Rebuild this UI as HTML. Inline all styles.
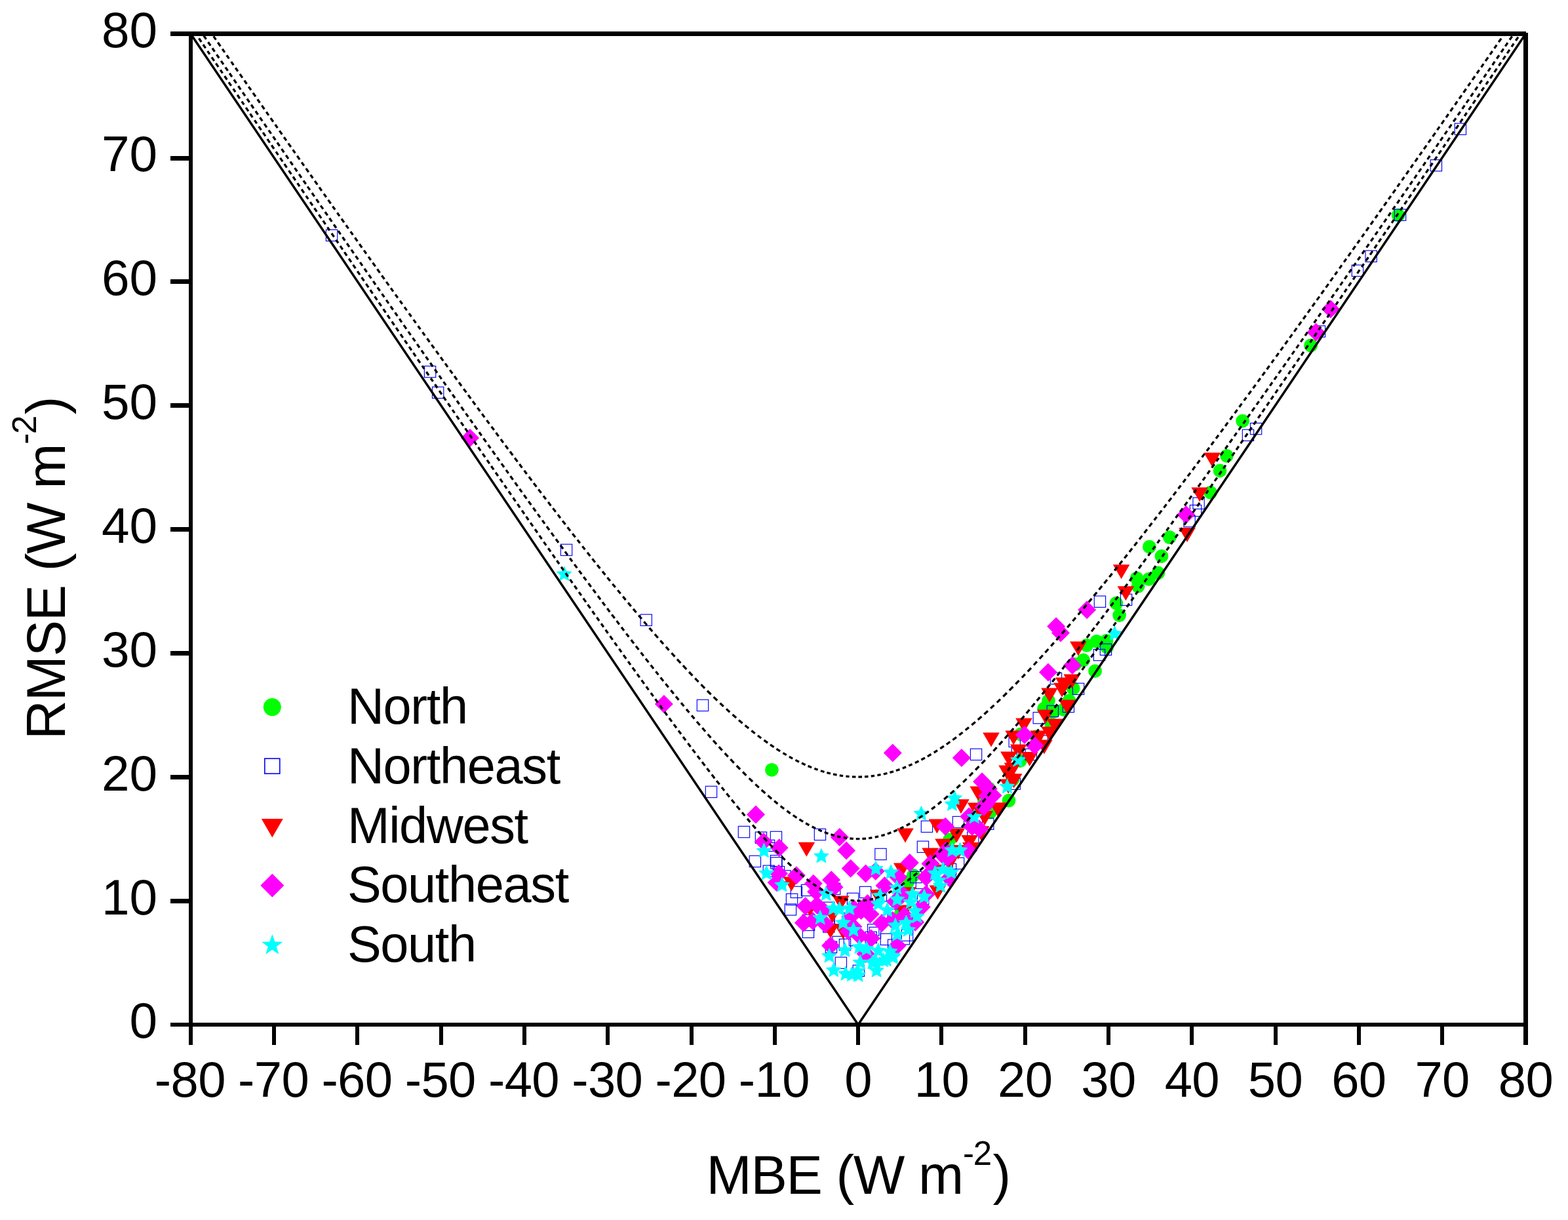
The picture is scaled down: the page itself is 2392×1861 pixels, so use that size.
<!DOCTYPE html>
<html lang="en">
<head>
<meta charset="utf-8">
<title>RMSE vs MBE by region</title>
<style>
html,body{margin:0;padding:0;background:#fff;}
body{width:2392px;height:1861px;overflow:hidden;}
svg{display:block;}
text{font-family:'Liberation Sans', sans-serif;fill:#000;}
</style>
</head>
<body>
<svg width="2392" height="1861" viewBox="0 0 2392 1861" role="img" aria-label="Scatter plot of RMSE against MBE for five regions">
<rect width="2392" height="1861" fill="#ffffff"/>
<g id="pts">
<circle cx="2133.1" cy="328.4" r="10.4" fill="#00ff00"/>
<circle cx="1999.6" cy="526.9" r="10.4" fill="#00ff00"/>
<circle cx="1895.6" cy="642.1" r="10.4" fill="#00ff00"/>
<circle cx="1871.4" cy="695.3" r="10.4" fill="#00ff00"/>
<circle cx="1861.0" cy="718.0" r="10.4" fill="#00ff00"/>
<circle cx="1846.7" cy="751.3" r="10.4" fill="#00ff00"/>
<circle cx="1784.3" cy="819.6" r="10.4" fill="#00ff00"/>
<circle cx="1753.4" cy="834.2" r="10.4" fill="#00ff00"/>
<circle cx="1772.0" cy="848.5" r="10.4" fill="#00ff00"/>
<circle cx="1766.8" cy="874.0" r="10.4" fill="#00ff00"/>
<circle cx="1734.1" cy="882.2" r="10.4" fill="#00ff00"/>
<circle cx="1752.6" cy="883.4" r="10.4" fill="#00ff00"/>
<circle cx="1736.1" cy="894.3" r="10.4" fill="#00ff00"/>
<circle cx="1702.9" cy="920.2" r="10.4" fill="#00ff00"/>
<circle cx="1707.6" cy="938.6" r="10.4" fill="#00ff00"/>
<circle cx="1657.8" cy="984.3" r="10.4" fill="#00ff00"/>
<circle cx="1672.9" cy="978.4" r="10.4" fill="#00ff00"/>
<circle cx="1688.0" cy="977.4" r="10.4" fill="#00ff00"/>
<circle cx="1688.7" cy="987.1" r="10.4" fill="#00ff00"/>
<circle cx="1652.7" cy="1007.0" r="10.4" fill="#00ff00"/>
<circle cx="1640.0" cy="1013.2" r="10.4" fill="#00ff00"/>
<circle cx="1670.6" cy="1023.7" r="10.4" fill="#00ff00"/>
<circle cx="1637.2" cy="1050.2" r="10.4" fill="#00ff00"/>
<circle cx="1599.5" cy="1068.8" r="10.4" fill="#00ff00"/>
<circle cx="1631.0" cy="1068.8" r="10.4" fill="#00ff00"/>
<circle cx="1592.5" cy="1081.0" r="10.4" fill="#00ff00"/>
<circle cx="1607.7" cy="1085.3" r="10.4" fill="#00ff00"/>
<circle cx="1622.5" cy="1082.5" r="10.4" fill="#00ff00"/>
<circle cx="1603.8" cy="1104.3" r="10.4" fill="#00ff00"/>
<circle cx="1580.5" cy="1123.6" r="10.4" fill="#00ff00"/>
<circle cx="1557.1" cy="1120.1" r="10.4" fill="#00ff00"/>
<circle cx="1556.5" cy="1160.5" r="10.4" fill="#00ff00"/>
<circle cx="1544.8" cy="1189.5" r="10.4" fill="#00ff00"/>
<circle cx="1508.4" cy="1202.6" r="10.4" fill="#00ff00"/>
<circle cx="1539.0" cy="1221.1" r="10.4" fill="#00ff00"/>
<circle cx="1501.5" cy="1221.8" r="10.4" fill="#00ff00"/>
<circle cx="1510.5" cy="1239.0" r="10.4" fill="#00ff00"/>
<circle cx="1448.5" cy="1281.0" r="10.4" fill="#00ff00"/>
<circle cx="1177.4" cy="1174.4" r="10.4" fill="#00ff00"/>
<circle cx="1385.2" cy="1344.9" r="10.4" fill="#00ff00"/>
<circle cx="1393.4" cy="1335.3" r="10.4" fill="#00ff00"/>
<circle cx="1374.2" cy="1394.4" r="10.4" fill="#00ff00"/>
<rect x="2219.2" y="188.2" width="17.3" height="17.3" fill="none" stroke="#0000ff" stroke-width="1.15"/>
<rect x="2182.2" y="243.7" width="17.3" height="17.3" fill="none" stroke="#0000ff" stroke-width="1.15"/>
<rect x="2127.4" y="319.2" width="17.3" height="17.3" fill="none" stroke="#0000ff" stroke-width="1.15"/>
<rect x="2083.0" y="382.2" width="17.3" height="17.3" fill="none" stroke="#0000ff" stroke-width="1.15"/>
<rect x="2062.3" y="404.2" width="17.3" height="17.3" fill="none" stroke="#0000ff" stroke-width="1.15"/>
<rect x="2004.3" y="496.9" width="17.3" height="17.3" fill="none" stroke="#0000ff" stroke-width="1.15"/>
<rect x="1907.4" y="645.4" width="17.3" height="17.3" fill="none" stroke="#0000ff" stroke-width="1.15"/>
<rect x="1895.3" y="655.2" width="17.3" height="17.3" fill="none" stroke="#0000ff" stroke-width="1.15"/>
<rect x="1819.9" y="759.1" width="17.3" height="17.3" fill="none" stroke="#0000ff" stroke-width="1.15"/>
<rect x="1815.3" y="770.4" width="17.3" height="17.3" fill="none" stroke="#0000ff" stroke-width="1.15"/>
<rect x="1805.9" y="786.4" width="17.3" height="17.3" fill="none" stroke="#0000ff" stroke-width="1.15"/>
<rect x="1709.4" y="906.2" width="17.3" height="17.3" fill="none" stroke="#0000ff" stroke-width="1.15"/>
<rect x="1669.3" y="909.1" width="17.3" height="17.3" fill="none" stroke="#0000ff" stroke-width="1.15"/>
<rect x="1678.3" y="982.1" width="17.3" height="17.3" fill="none" stroke="#0000ff" stroke-width="1.15"/>
<rect x="1668.4" y="990.4" width="17.3" height="17.3" fill="none" stroke="#0000ff" stroke-width="1.15"/>
<rect x="1602.3" y="1026.3" width="17.3" height="17.3" fill="none" stroke="#0000ff" stroke-width="1.15"/>
<rect x="1636.4" y="1042.2" width="17.3" height="17.3" fill="none" stroke="#0000ff" stroke-width="1.15"/>
<rect x="1597.2" y="1076.2" width="17.3" height="17.3" fill="none" stroke="#0000ff" stroke-width="1.15"/>
<rect x="1621.2" y="1069.3" width="17.3" height="17.3" fill="none" stroke="#0000ff" stroke-width="1.15"/>
<rect x="1576.1" y="1086.5" width="17.3" height="17.3" fill="none" stroke="#0000ff" stroke-width="1.15"/>
<rect x="1539.1" y="1122.2" width="17.3" height="17.3" fill="none" stroke="#0000ff" stroke-width="1.15"/>
<rect x="1543.2" y="1141.0" width="17.3" height="17.3" fill="none" stroke="#0000ff" stroke-width="1.15"/>
<rect x="1564.2" y="1142.3" width="17.3" height="17.3" fill="none" stroke="#0000ff" stroke-width="1.15"/>
<rect x="1581.0" y="1121.8" width="17.3" height="17.3" fill="none" stroke="#0000ff" stroke-width="1.15"/>
<rect x="1480.4" y="1142.2" width="17.3" height="17.3" fill="none" stroke="#0000ff" stroke-width="1.15"/>
<rect x="1539.2" y="1187.0" width="17.3" height="17.3" fill="none" stroke="#0000ff" stroke-width="1.15"/>
<rect x="1453.3" y="1245.4" width="17.3" height="17.3" fill="none" stroke="#0000ff" stroke-width="1.15"/>
<rect x="1498.6" y="1248.1" width="17.3" height="17.3" fill="none" stroke="#0000ff" stroke-width="1.15"/>
<rect x="1475.6" y="1269.0" width="17.3" height="17.3" fill="none" stroke="#0000ff" stroke-width="1.15"/>
<rect x="1405.3" y="1252.2" width="17.3" height="17.3" fill="none" stroke="#0000ff" stroke-width="1.15"/>
<rect x="1399.3" y="1283.1" width="17.3" height="17.3" fill="none" stroke="#0000ff" stroke-width="1.15"/>
<rect x="1334.8" y="1294.3" width="17.3" height="17.3" fill="none" stroke="#0000ff" stroke-width="1.15"/>
<rect x="1453.4" y="1308.4" width="17.3" height="17.3" fill="none" stroke="#0000ff" stroke-width="1.15"/>
<rect x="1441.3" y="1317.3" width="17.3" height="17.3" fill="none" stroke="#0000ff" stroke-width="1.15"/>
<rect x="1388.6" y="1329.4" width="17.3" height="17.3" fill="none" stroke="#0000ff" stroke-width="1.15"/>
<rect x="1397.3" y="1338.3" width="17.3" height="17.3" fill="none" stroke="#0000ff" stroke-width="1.15"/>
<rect x="1311.5" y="1352.3" width="17.3" height="17.3" fill="none" stroke="#0000ff" stroke-width="1.15"/>
<rect x="1292.4" y="1362.3" width="17.3" height="17.3" fill="none" stroke="#0000ff" stroke-width="1.15"/>
<rect x="1335.3" y="1357.5" width="17.3" height="17.3" fill="none" stroke="#0000ff" stroke-width="1.15"/>
<rect x="1354.1" y="1386.8" width="17.3" height="17.3" fill="none" stroke="#0000ff" stroke-width="1.15"/>
<rect x="1399.5" y="1362.3" width="17.3" height="17.3" fill="none" stroke="#0000ff" stroke-width="1.15"/>
<rect x="1296.4" y="1382.3" width="17.3" height="17.3" fill="none" stroke="#0000ff" stroke-width="1.15"/>
<rect x="1323.6" y="1409.8" width="17.3" height="17.3" fill="none" stroke="#0000ff" stroke-width="1.15"/>
<rect x="1326.3" y="1414.3" width="17.3" height="17.3" fill="none" stroke="#0000ff" stroke-width="1.15"/>
<rect x="1320.1" y="1421.4" width="17.3" height="17.3" fill="none" stroke="#0000ff" stroke-width="1.15"/>
<rect x="1343.2" y="1424.2" width="17.3" height="17.3" fill="none" stroke="#0000ff" stroke-width="1.15"/>
<rect x="1354.5" y="1433.1" width="17.3" height="17.3" fill="none" stroke="#0000ff" stroke-width="1.15"/>
<rect x="1375.4" y="1418.0" width="17.3" height="17.3" fill="none" stroke="#0000ff" stroke-width="1.15"/>
<rect x="1370.3" y="1423.5" width="17.3" height="17.3" fill="none" stroke="#0000ff" stroke-width="1.15"/>
<rect x="1301.2" y="1472.2" width="17.3" height="17.3" fill="none" stroke="#0000ff" stroke-width="1.15"/>
<rect x="497.4" y="350.4" width="17.3" height="17.3" fill="none" stroke="#0000ff" stroke-width="1.15"/>
<rect x="647.4" y="558.4" width="17.3" height="17.3" fill="none" stroke="#0000ff" stroke-width="1.15"/>
<rect x="659.5" y="590.2" width="17.3" height="17.3" fill="none" stroke="#0000ff" stroke-width="1.15"/>
<rect x="855.4" y="830.2" width="17.3" height="17.3" fill="none" stroke="#0000ff" stroke-width="1.15"/>
<rect x="977.1" y="937.2" width="17.3" height="17.3" fill="none" stroke="#0000ff" stroke-width="1.15"/>
<rect x="1063.3" y="1067.3" width="17.3" height="17.3" fill="none" stroke="#0000ff" stroke-width="1.15"/>
<rect x="1076.3" y="1199.3" width="17.3" height="17.3" fill="none" stroke="#0000ff" stroke-width="1.15"/>
<rect x="1126.3" y="1260.4" width="17.3" height="17.3" fill="none" stroke="#0000ff" stroke-width="1.15"/>
<rect x="1152.3" y="1269.1" width="17.3" height="17.3" fill="none" stroke="#0000ff" stroke-width="1.15"/>
<rect x="1175.3" y="1268.3" width="17.3" height="17.3" fill="none" stroke="#0000ff" stroke-width="1.15"/>
<rect x="1242.3" y="1264.3" width="17.3" height="17.3" fill="none" stroke="#0000ff" stroke-width="1.15"/>
<rect x="1164.5" y="1281.3" width="17.3" height="17.3" fill="none" stroke="#0000ff" stroke-width="1.15"/>
<rect x="1143.2" y="1305.3" width="17.3" height="17.3" fill="none" stroke="#0000ff" stroke-width="1.15"/>
<rect x="1175.3" y="1304.6" width="17.3" height="17.3" fill="none" stroke="#0000ff" stroke-width="1.15"/>
<rect x="1175.8" y="1307.8" width="17.3" height="17.3" fill="none" stroke="#0000ff" stroke-width="1.15"/>
<rect x="1164.2" y="1320.1" width="17.3" height="17.3" fill="none" stroke="#0000ff" stroke-width="1.15"/>
<rect x="1179.3" y="1321.5" width="17.3" height="17.3" fill="none" stroke="#0000ff" stroke-width="1.15"/>
<rect x="1188.8" y="1327.8" width="17.3" height="17.3" fill="none" stroke="#0000ff" stroke-width="1.15"/>
<rect x="1206.2" y="1352.2" width="17.3" height="17.3" fill="none" stroke="#0000ff" stroke-width="1.15"/>
<rect x="1222.4" y="1349.3" width="17.3" height="17.3" fill="none" stroke="#0000ff" stroke-width="1.15"/>
<rect x="1199.4" y="1363.3" width="17.3" height="17.3" fill="none" stroke="#0000ff" stroke-width="1.15"/>
<rect x="1197.3" y="1378.8" width="17.3" height="17.3" fill="none" stroke="#0000ff" stroke-width="1.15"/>
<rect x="1264.5" y="1347.2" width="17.3" height="17.3" fill="none" stroke="#0000ff" stroke-width="1.15"/>
<rect x="1224.3" y="1413.2" width="17.3" height="17.3" fill="none" stroke="#0000ff" stroke-width="1.15"/>
<rect x="1224.1" y="1395.3" width="17.3" height="17.3" fill="none" stroke="#0000ff" stroke-width="1.15"/>
<rect x="1225.4" y="1402.2" width="17.3" height="17.3" fill="none" stroke="#0000ff" stroke-width="1.15"/>
<rect x="1255.6" y="1376.1" width="17.3" height="17.3" fill="none" stroke="#0000ff" stroke-width="1.15"/>
<rect x="1255.6" y="1404.9" width="17.3" height="17.3" fill="none" stroke="#0000ff" stroke-width="1.15"/>
<rect x="1273.4" y="1392.6" width="17.3" height="17.3" fill="none" stroke="#0000ff" stroke-width="1.15"/>
<rect x="1270.0" y="1428.3" width="17.3" height="17.3" fill="none" stroke="#0000ff" stroke-width="1.15"/>
<rect x="1280.3" y="1432.4" width="17.3" height="17.3" fill="none" stroke="#0000ff" stroke-width="1.15"/>
<rect x="1259.3" y="1436.1" width="17.3" height="17.3" fill="none" stroke="#0000ff" stroke-width="1.15"/>
<rect x="1295.4" y="1425.5" width="17.3" height="17.3" fill="none" stroke="#0000ff" stroke-width="1.15"/>
<rect x="1274.2" y="1460.1" width="17.3" height="17.3" fill="none" stroke="#0000ff" stroke-width="1.15"/>
<path d="M1836.5 690.5h25.6L1849.3 712.5z" fill="#ff0000"/>
<path d="M1817.3 743.4h25.6L1830.1 765.4z" fill="#ff0000"/>
<path d="M1798.2 805.0h25.6L1811.0 827.0z" fill="#ff0000"/>
<path d="M1697.8 861.3h25.6L1710.6 883.3z" fill="#ff0000"/>
<path d="M1704.6 894.3h25.6L1717.4 916.3z" fill="#ff0000"/>
<path d="M1632.1 978.5h25.6L1644.9 1000.5z" fill="#ff0000"/>
<path d="M1622.4 1028.5h25.6L1635.2 1050.5z" fill="#ff0000"/>
<path d="M1610.0 1033.5h25.6L1622.8 1055.5z" fill="#ff0000"/>
<path d="M1607.3 1041.7h25.6L1620.1 1063.7z" fill="#ff0000"/>
<path d="M1588.2 1049.5h25.6L1601.0 1071.5z" fill="#ff0000"/>
<path d="M1615.1 1067.4h25.6L1627.9 1089.4z" fill="#ff0000"/>
<path d="M1582.1 1082.5h25.6L1594.9 1104.5z" fill="#ff0000"/>
<path d="M1549.2 1095.4h25.6L1562.0 1117.4z" fill="#ff0000"/>
<path d="M1596.8 1096.4h25.6L1609.6 1118.4z" fill="#ff0000"/>
<path d="M1588.3 1108.5h25.6L1601.1 1130.5z" fill="#ff0000"/>
<path d="M1571.4 1114.4h25.6L1584.2 1136.4z" fill="#ff0000"/>
<path d="M1533.4 1114.4h25.6L1546.2 1136.4z" fill="#ff0000"/>
<path d="M1499.2 1117.4h25.6L1512.0 1139.4z" fill="#ff0000"/>
<path d="M1541.0 1135.5h25.6L1553.8 1157.5z" fill="#ff0000"/>
<path d="M1580.1 1128.4h25.6L1592.9 1150.4z" fill="#ff0000"/>
<path d="M1526.1 1146.5h25.6L1538.9 1168.5z" fill="#ff0000"/>
<path d="M1557.9 1146.9h25.6L1570.7 1168.9z" fill="#ff0000"/>
<path d="M1523.3 1167.5h25.6L1536.1 1189.5z" fill="#ff0000"/>
<path d="M1531.7 1163.4h25.6L1544.5 1185.4z" fill="#ff0000"/>
<path d="M1533.9 1180.3h25.6L1546.7 1202.3z" fill="#ff0000"/>
<path d="M1525.4 1188.5h25.6L1538.2 1210.5z" fill="#ff0000"/>
<path d="M1479.4 1199.5h25.6L1492.2 1221.5z" fill="#ff0000"/>
<path d="M1453.2 1219.3h25.6L1466.0 1241.3z" fill="#ff0000"/>
<path d="M1475.9 1224.5h25.6L1488.7 1246.5z" fill="#ff0000"/>
<path d="M1509.6 1224.2h25.6L1522.4 1246.2z" fill="#ff0000"/>
<path d="M1489.4 1236.9h25.6L1502.2 1258.9z" fill="#ff0000"/>
<path d="M1446.4 1263.7h25.6L1459.2 1285.7z" fill="#ff0000"/>
<path d="M1483.9 1260.2h25.6L1496.7 1282.2z" fill="#ff0000"/>
<path d="M1466.3 1274.0h25.6L1479.1 1296.0z" fill="#ff0000"/>
<path d="M1448.9 1289.1h25.6L1461.7 1311.1z" fill="#ff0000"/>
<path d="M1468.1 1285.0h25.6L1480.9 1307.0z" fill="#ff0000"/>
<path d="M1416.6 1249.5h25.6L1429.4 1271.5z" fill="#ff0000"/>
<path d="M1368.2 1263.4h25.6L1381.0 1285.4z" fill="#ff0000"/>
<path d="M1426.2 1279.5h25.6L1439.0 1301.5z" fill="#ff0000"/>
<path d="M1406.3 1293.6h25.6L1419.1 1315.6z" fill="#ff0000"/>
<path d="M1363.0 1316.5h25.6L1375.8 1338.5z" fill="#ff0000"/>
<path d="M1435.6 1307.2h25.6L1448.4 1329.2z" fill="#ff0000"/>
<path d="M1415.6 1318.8h25.6L1428.4 1340.8z" fill="#ff0000"/>
<path d="M1417.7 1350.4h25.6L1430.5 1372.4z" fill="#ff0000"/>
<path d="M1327.0 1357.3h25.6L1339.8 1379.3z" fill="#ff0000"/>
<path d="M1366.9 1380.6h25.6L1379.7 1402.6z" fill="#ff0000"/>
<path d="M1372.4 1353.2h25.6L1385.2 1375.2z" fill="#ff0000"/>
<path d="M1217.6 1284.8h25.6L1230.4 1306.8z" fill="#ff0000"/>
<path d="M1194.7 1337.4h25.6L1207.5 1359.4z" fill="#ff0000"/>
<path d="M1270.0 1366.5h25.6L1282.8 1388.5z" fill="#ff0000"/>
<path d="M1222.7 1376.0h25.6L1235.5 1398.0z" fill="#ff0000"/>
<path d="M1257.0 1386.1h25.6L1269.8 1408.1z" fill="#ff0000"/>
<path d="M1254.2 1409.5h25.6L1267.0 1431.5z" fill="#ff0000"/>
<path d="M1273.5 1410.9h25.6L1286.3 1432.9z" fill="#ff0000"/>
<path d="M2029.9 457.4L2043.9 471.4L2029.9 485.4L2015.9 471.4z" fill="#ff00ff"/>
<path d="M2007.5 492.8L2021.5 506.8L2007.5 520.8L1993.5 506.8z" fill="#ff00ff"/>
<path d="M1809.3 771.0L1823.3 785.0L1809.3 799.0L1795.3 785.0z" fill="#ff00ff"/>
<path d="M1658.1 916.3L1672.1 930.3L1658.1 944.3L1644.1 930.3z" fill="#ff00ff"/>
<path d="M1611.1 941.5L1625.1 955.5L1611.1 969.5L1597.1 955.5z" fill="#ff00ff"/>
<path d="M1618.0 951.5L1632.0 965.5L1618.0 979.5L1604.0 965.5z" fill="#ff00ff"/>
<path d="M1635.9 1000.9L1649.9 1014.9L1635.9 1028.9L1621.9 1014.9z" fill="#ff00ff"/>
<path d="M1599.0 1011.5L1613.0 1025.5L1599.0 1039.5L1585.0 1025.5z" fill="#ff00ff"/>
<path d="M1562.9 1107.1L1576.9 1121.1L1562.9 1135.1L1548.9 1121.1z" fill="#ff00ff"/>
<path d="M1578.4 1123.3L1592.4 1137.3L1578.4 1151.3L1564.4 1137.3z" fill="#ff00ff"/>
<path d="M1466.9 1141.9L1480.9 1155.9L1466.9 1169.9L1452.9 1155.9z" fill="#ff00ff"/>
<path d="M1498.1 1178.3L1512.1 1192.3L1498.1 1206.3L1484.1 1192.3z" fill="#ff00ff"/>
<path d="M1507.7 1189.2L1521.7 1203.2L1507.7 1217.2L1493.7 1203.2z" fill="#ff00ff"/>
<path d="M1514.6 1199.5L1528.6 1213.5L1514.6 1227.5L1500.6 1213.5z" fill="#ff00ff"/>
<path d="M1506.3 1200.2L1520.3 1214.2L1506.3 1228.2L1492.3 1214.2z" fill="#ff00ff"/>
<path d="M1504.9 1211.2L1518.9 1225.2L1504.9 1239.2L1490.9 1225.2z" fill="#ff00ff"/>
<path d="M1500.8 1216.7L1514.8 1230.7L1500.8 1244.7L1486.8 1230.7z" fill="#ff00ff"/>
<path d="M1478.2 1231.5L1492.2 1245.5L1478.2 1259.5L1464.2 1245.5z" fill="#ff00ff"/>
<path d="M1483.0 1246.9L1497.0 1260.9L1483.0 1274.9L1469.0 1260.9z" fill="#ff00ff"/>
<path d="M1494.0 1250.4L1508.0 1264.4L1494.0 1278.4L1480.0 1264.4z" fill="#ff00ff"/>
<path d="M1442.2 1246.7L1456.2 1260.7L1442.2 1274.7L1428.2 1260.7z" fill="#ff00ff"/>
<path d="M1477.4 1283.5L1491.4 1297.5L1477.4 1311.5L1463.4 1297.5z" fill="#ff00ff"/>
<path d="M1361.8 1134.6L1375.8 1148.6L1361.8 1162.6L1347.8 1148.6z" fill="#ff00ff"/>
<path d="M1442.9 1284.0L1456.9 1298.0L1442.9 1312.0L1428.9 1298.0z" fill="#ff00ff"/>
<path d="M1291.1 1283.5L1305.1 1297.5L1291.1 1311.5L1277.1 1297.5z" fill="#ff00ff"/>
<path d="M1387.9 1302.1L1401.9 1316.1L1387.9 1330.1L1373.9 1316.1z" fill="#ff00ff"/>
<path d="M1320.6 1318.6L1334.6 1332.6L1320.6 1346.6L1306.6 1332.6z" fill="#ff00ff"/>
<path d="M1297.7 1310.8L1311.7 1324.8L1297.7 1338.8L1283.7 1324.8z" fill="#ff00ff"/>
<path d="M1335.7 1315.1L1349.7 1329.1L1335.7 1343.1L1321.7 1329.1z" fill="#ff00ff"/>
<path d="M1370.1 1324.1L1384.1 1338.1L1370.1 1352.1L1356.1 1338.1z" fill="#ff00ff"/>
<path d="M1349.5 1337.1L1363.5 1351.1L1349.5 1365.1L1335.5 1351.1z" fill="#ff00ff"/>
<path d="M1419.5 1303.5L1433.5 1317.5L1419.5 1331.5L1405.5 1317.5z" fill="#ff00ff"/>
<path d="M1412.6 1324.1L1426.6 1338.1L1412.6 1352.1L1398.6 1338.1z" fill="#ff00ff"/>
<path d="M1445.6 1293.9L1459.6 1307.9L1445.6 1321.9L1431.6 1307.9z" fill="#ff00ff"/>
<path d="M1437.4 1289.7L1451.4 1303.7L1437.4 1317.7L1423.4 1303.7z" fill="#ff00ff"/>
<path d="M1448.4 1325.5L1462.4 1339.5L1448.4 1353.5L1434.4 1339.5z" fill="#ff00ff"/>
<path d="M1412.6 1350.2L1426.6 1364.2L1412.6 1378.2L1398.6 1364.2z" fill="#ff00ff"/>
<path d="M1405.8 1369.4L1419.8 1383.4L1405.8 1397.4L1391.8 1383.4z" fill="#ff00ff"/>
<path d="M1396.2 1392.8L1410.2 1406.8L1396.2 1420.8L1382.2 1406.8z" fill="#ff00ff"/>
<path d="M1376.9 1350.2L1390.9 1364.2L1376.9 1378.2L1362.9 1364.2z" fill="#ff00ff"/>
<path d="M1365.9 1361.2L1379.9 1375.2L1365.9 1389.2L1351.9 1375.2z" fill="#ff00ff"/>
<path d="M1323.4 1363.9L1337.4 1377.9L1323.4 1391.9L1309.4 1377.9z" fill="#ff00ff"/>
<path d="M1313.7 1374.9L1327.7 1388.9L1313.7 1402.9L1299.7 1388.9z" fill="#ff00ff"/>
<path d="M1327.5 1380.4L1341.5 1394.4L1327.5 1408.4L1313.5 1394.4z" fill="#ff00ff"/>
<path d="M1302.7 1372.2L1316.7 1386.2L1302.7 1400.2L1288.7 1386.2z" fill="#ff00ff"/>
<path d="M1345.3 1394.1L1359.3 1408.1L1345.3 1422.1L1331.3 1408.1z" fill="#ff00ff"/>
<path d="M1361.8 1390.0L1375.8 1404.0L1361.8 1418.0L1347.8 1404.0z" fill="#ff00ff"/>
<path d="M1379.7 1383.1L1393.7 1397.1L1379.7 1411.1L1365.7 1397.1z" fill="#ff00ff"/>
<path d="M1301.4 1399.6L1315.4 1413.6L1301.4 1427.6L1287.4 1413.6z" fill="#ff00ff"/>
<path d="M1311.0 1413.4L1325.0 1427.4L1311.0 1441.4L1297.0 1427.4z" fill="#ff00ff"/>
<path d="M1328.8 1417.5L1342.8 1431.5L1328.8 1445.5L1314.8 1431.5z" fill="#ff00ff"/>
<path d="M1368.7 1428.5L1382.7 1442.5L1368.7 1456.5L1354.7 1442.5z" fill="#ff00ff"/>
<path d="M1320.6 1441.0L1334.6 1455.0L1320.6 1469.0L1306.6 1455.0z" fill="#ff00ff"/>
<path d="M717.0 654.0L731.0 668.0L717.0 682.0L703.0 668.0z" fill="#ff00ff"/>
<path d="M1012.9 1059.9L1026.9 1073.9L1012.9 1087.9L998.9 1073.9z" fill="#ff00ff"/>
<path d="M1153.0 1228.5L1167.0 1242.5L1153.0 1256.5L1139.0 1242.5z" fill="#ff00ff"/>
<path d="M1280.8 1263.0L1294.8 1277.0L1280.8 1291.0L1266.8 1277.0z" fill="#ff00ff"/>
<path d="M1164.8 1270.0L1178.8 1284.0L1164.8 1298.0L1150.8 1284.0z" fill="#ff00ff"/>
<path d="M1188.7 1279.3L1202.7 1293.3L1188.7 1307.3L1174.7 1293.3z" fill="#ff00ff"/>
<path d="M1188.0 1318.6L1202.0 1332.6L1188.0 1346.6L1174.0 1332.6z" fill="#ff00ff"/>
<path d="M1214.9 1321.3L1228.9 1335.3L1214.9 1349.3L1200.9 1335.3z" fill="#ff00ff"/>
<path d="M1184.7 1332.3L1198.7 1346.3L1184.7 1360.3L1170.7 1346.3z" fill="#ff00ff"/>
<path d="M1240.9 1333.7L1254.9 1347.7L1240.9 1361.7L1226.9 1347.7z" fill="#ff00ff"/>
<path d="M1268.1 1328.2L1282.1 1342.2L1268.1 1356.2L1254.1 1342.2z" fill="#ff00ff"/>
<path d="M1272.5 1339.2L1286.5 1353.2L1272.5 1367.2L1258.5 1353.2z" fill="#ff00ff"/>
<path d="M1245.1 1346.3L1259.1 1360.3L1245.1 1374.3L1231.1 1360.3z" fill="#ff00ff"/>
<path d="M1228.7 1368.3L1242.7 1382.3L1228.7 1396.3L1214.7 1382.3z" fill="#ff00ff"/>
<path d="M1246.4 1366.7L1260.4 1380.7L1246.4 1394.7L1232.4 1380.7z" fill="#ff00ff"/>
<path d="M1256.0 1374.9L1270.0 1388.9L1256.0 1402.9L1242.0 1388.9z" fill="#ff00ff"/>
<path d="M1225.9 1393.7L1239.9 1407.7L1225.9 1421.7L1211.9 1407.7z" fill="#ff00ff"/>
<path d="M1240.0 1391.0L1254.0 1405.0L1240.0 1419.0L1226.0 1405.0z" fill="#ff00ff"/>
<path d="M1258.8 1395.5L1272.8 1409.5L1258.8 1423.5L1244.8 1409.5z" fill="#ff00ff"/>
<path d="M1297.3 1384.5L1311.3 1398.5L1297.3 1412.5L1283.3 1398.5z" fill="#ff00ff"/>
<path d="M1294.5 1406.5L1308.5 1420.5L1294.5 1434.5L1280.5 1420.5z" fill="#ff00ff"/>
<path d="M1267.0 1428.5L1281.0 1442.5L1267.0 1456.5L1253.0 1442.5z" fill="#ff00ff"/>
<polygon points="1700.4,955.4 1703.5,962.6 1711.3,963.3 1705.4,968.5 1707.2,976.2 1700.4,972.2 1693.6,976.2 1695.4,968.5 1689.5,963.3 1697.3,962.6" fill="#00ffff" stroke="#00ffff" stroke-width="1.2" stroke-linejoin="round"/>
<polygon points="1552.7,1148.2 1555.8,1155.4 1563.6,1156.1 1557.7,1161.3 1559.5,1169.0 1552.7,1165.0 1545.9,1169.0 1547.7,1161.3 1541.8,1156.1 1549.6,1155.4" fill="#00ffff" stroke="#00ffff" stroke-width="1.2" stroke-linejoin="round"/>
<polygon points="1536.5,1188.7 1539.6,1195.9 1547.4,1196.6 1541.5,1201.8 1543.3,1209.5 1536.5,1205.5 1529.7,1209.5 1531.5,1201.8 1525.6,1196.6 1533.4,1195.9" fill="#00ffff" stroke="#00ffff" stroke-width="1.2" stroke-linejoin="round"/>
<polygon points="1456.3,1206.3 1459.4,1213.5 1467.2,1214.2 1461.3,1219.4 1463.1,1227.1 1456.3,1223.1 1449.5,1227.1 1451.3,1219.4 1445.4,1214.2 1453.2,1213.5" fill="#00ffff" stroke="#00ffff" stroke-width="1.2" stroke-linejoin="round"/>
<polygon points="1452.5,1215.5 1455.6,1222.7 1463.4,1223.4 1457.5,1228.6 1459.3,1236.3 1452.5,1232.3 1445.7,1236.3 1447.5,1228.6 1441.6,1223.4 1449.4,1222.7" fill="#00ffff" stroke="#00ffff" stroke-width="1.2" stroke-linejoin="round"/>
<polygon points="1486.4,1234.7 1489.5,1241.9 1497.3,1242.6 1491.4,1247.8 1493.2,1255.5 1486.4,1251.5 1479.6,1255.5 1481.4,1247.8 1475.5,1242.6 1483.3,1241.9" fill="#00ffff" stroke="#00ffff" stroke-width="1.2" stroke-linejoin="round"/>
<polygon points="1405.4,1229.9 1408.5,1237.1 1416.3,1237.8 1410.4,1243.0 1412.2,1250.7 1405.4,1246.7 1398.6,1250.7 1400.4,1243.0 1394.5,1237.8 1402.3,1237.1" fill="#00ffff" stroke="#00ffff" stroke-width="1.2" stroke-linejoin="round"/>
<polygon points="1452.6,1285.6 1455.7,1292.8 1463.5,1293.5 1457.6,1298.7 1459.4,1306.4 1452.6,1302.4 1445.8,1306.4 1447.6,1298.7 1441.7,1293.5 1449.5,1292.8" fill="#00ffff" stroke="#00ffff" stroke-width="1.2" stroke-linejoin="round"/>
<polygon points="1464.6,1285.6 1467.7,1292.8 1475.5,1293.5 1469.6,1298.7 1471.4,1306.4 1464.6,1302.4 1457.8,1306.4 1459.6,1298.7 1453.7,1293.5 1461.5,1292.8" fill="#00ffff" stroke="#00ffff" stroke-width="1.2" stroke-linejoin="round"/>
<polygon points="1336.1,1313.9 1339.2,1321.1 1347.0,1321.8 1341.1,1327.0 1342.9,1334.7 1336.1,1330.7 1329.3,1334.7 1331.1,1327.0 1325.2,1321.8 1333.0,1321.1" fill="#00ffff" stroke="#00ffff" stroke-width="1.2" stroke-linejoin="round"/>
<polygon points="1359.1,1319.4 1362.2,1326.6 1370.0,1327.3 1364.1,1332.5 1365.9,1340.2 1359.1,1336.2 1352.3,1340.2 1354.1,1332.5 1348.2,1327.3 1356.0,1326.6" fill="#00ffff" stroke="#00ffff" stroke-width="1.2" stroke-linejoin="round"/>
<polygon points="1426.4,1320.8 1429.5,1328.0 1437.3,1328.7 1431.4,1333.9 1433.2,1341.6 1426.4,1337.6 1419.6,1341.6 1421.4,1333.9 1415.5,1328.7 1423.3,1328.0" fill="#00ffff" stroke="#00ffff" stroke-width="1.2" stroke-linejoin="round"/>
<polygon points="1438.7,1315.3 1441.8,1322.5 1449.6,1323.2 1443.7,1328.4 1445.5,1336.1 1438.7,1332.1 1431.9,1336.1 1433.7,1328.4 1427.8,1323.2 1435.6,1322.5" fill="#00ffff" stroke="#00ffff" stroke-width="1.2" stroke-linejoin="round"/>
<polygon points="1451.1,1319.4 1454.2,1326.6 1462.0,1327.3 1456.1,1332.5 1457.9,1340.2 1451.1,1336.2 1444.3,1340.2 1446.1,1332.5 1440.2,1327.3 1448.0,1326.6" fill="#00ffff" stroke="#00ffff" stroke-width="1.2" stroke-linejoin="round"/>
<polygon points="1431.9,1331.8 1435.0,1339.0 1442.8,1339.7 1436.9,1344.9 1438.7,1352.6 1431.9,1348.6 1425.1,1352.6 1426.9,1344.9 1421.0,1339.7 1428.8,1339.0" fill="#00ffff" stroke="#00ffff" stroke-width="1.2" stroke-linejoin="round"/>
<polygon points="1434.6,1340.0 1437.7,1347.2 1445.5,1347.9 1439.6,1353.1 1441.4,1360.8 1434.6,1356.8 1427.8,1360.8 1429.6,1353.1 1423.7,1347.9 1431.5,1347.2" fill="#00ffff" stroke="#00ffff" stroke-width="1.2" stroke-linejoin="round"/>
<polygon points="1368.0,1342.8 1371.1,1350.0 1378.9,1350.7 1373.0,1355.9 1374.8,1363.6 1368.0,1359.6 1361.2,1363.6 1363.0,1355.9 1357.1,1350.7 1364.9,1350.0" fill="#00ffff" stroke="#00ffff" stroke-width="1.2" stroke-linejoin="round"/>
<polygon points="1342.6,1355.1 1345.7,1362.3 1353.5,1363.0 1347.6,1368.2 1349.4,1375.9 1342.6,1371.9 1335.8,1375.9 1337.6,1368.2 1331.7,1363.0 1339.5,1362.3" fill="#00ffff" stroke="#00ffff" stroke-width="1.2" stroke-linejoin="round"/>
<polygon points="1368.7,1360.6 1371.8,1367.8 1379.6,1368.5 1373.7,1373.7 1375.5,1381.4 1368.7,1377.4 1361.9,1381.4 1363.7,1373.7 1357.8,1368.5 1365.6,1367.8" fill="#00ffff" stroke="#00ffff" stroke-width="1.2" stroke-linejoin="round"/>
<polygon points="1392.0,1352.4 1395.1,1359.6 1402.9,1360.3 1397.0,1365.5 1398.8,1373.2 1392.0,1369.2 1385.2,1373.2 1387.0,1365.5 1381.1,1360.3 1388.9,1359.6" fill="#00ffff" stroke="#00ffff" stroke-width="1.2" stroke-linejoin="round"/>
<polygon points="1409.9,1356.5 1413.0,1363.7 1420.8,1364.4 1414.9,1369.6 1416.7,1377.3 1409.9,1373.3 1403.1,1377.3 1404.9,1369.6 1399.0,1364.4 1406.8,1363.7" fill="#00ffff" stroke="#00ffff" stroke-width="1.2" stroke-linejoin="round"/>
<polygon points="1389.3,1364.8 1392.4,1372.0 1400.2,1372.7 1394.3,1377.9 1396.1,1385.6 1389.3,1381.6 1382.5,1385.6 1384.3,1377.9 1378.4,1372.7 1386.2,1372.0" fill="#00ffff" stroke="#00ffff" stroke-width="1.2" stroke-linejoin="round"/>
<polygon points="1339.8,1367.5 1342.9,1374.7 1350.7,1375.4 1344.8,1380.6 1346.6,1388.3 1339.8,1384.3 1333.0,1388.3 1334.8,1380.6 1328.9,1375.4 1336.7,1374.7" fill="#00ffff" stroke="#00ffff" stroke-width="1.2" stroke-linejoin="round"/>
<polygon points="1353.6,1377.1 1356.7,1384.3 1364.5,1385.0 1358.6,1390.2 1360.4,1397.9 1353.6,1393.9 1346.8,1397.9 1348.6,1390.2 1342.7,1385.0 1350.5,1384.3" fill="#00ffff" stroke="#00ffff" stroke-width="1.2" stroke-linejoin="round"/>
<polygon points="1396.2,1378.5 1399.3,1385.7 1407.1,1386.4 1401.2,1391.6 1403.0,1399.3 1396.2,1395.3 1389.4,1399.3 1391.2,1391.6 1385.3,1386.4 1393.1,1385.7" fill="#00ffff" stroke="#00ffff" stroke-width="1.2" stroke-linejoin="round"/>
<polygon points="1398.9,1386.7 1402.0,1393.9 1409.8,1394.6 1403.9,1399.8 1405.7,1407.5 1398.9,1403.5 1392.1,1407.5 1393.9,1399.8 1388.0,1394.6 1395.8,1393.9" fill="#00ffff" stroke="#00ffff" stroke-width="1.2" stroke-linejoin="round"/>
<polygon points="1382.4,1396.4 1385.5,1403.6 1393.3,1404.3 1387.4,1409.5 1389.2,1417.2 1382.4,1413.2 1375.6,1417.2 1377.4,1409.5 1371.5,1404.3 1379.3,1403.6" fill="#00ffff" stroke="#00ffff" stroke-width="1.2" stroke-linejoin="round"/>
<polygon points="1365.9,1400.5 1369.0,1407.7 1376.8,1408.4 1370.9,1413.6 1372.7,1421.3 1365.9,1417.3 1359.1,1421.3 1360.9,1413.6 1355.0,1408.4 1362.8,1407.7" fill="#00ffff" stroke="#00ffff" stroke-width="1.2" stroke-linejoin="round"/>
<polygon points="1385.2,1407.3 1388.3,1414.5 1396.1,1415.2 1390.2,1420.4 1392.0,1428.1 1385.2,1424.1 1378.4,1428.1 1380.2,1420.4 1374.3,1415.2 1382.1,1414.5" fill="#00ffff" stroke="#00ffff" stroke-width="1.2" stroke-linejoin="round"/>
<polygon points="1368.7,1414.2 1371.8,1421.4 1379.6,1422.1 1373.7,1427.3 1375.5,1435.0 1368.7,1431.0 1361.9,1435.0 1363.7,1427.3 1357.8,1422.1 1365.6,1421.4" fill="#00ffff" stroke="#00ffff" stroke-width="1.2" stroke-linejoin="round"/>
<polygon points="1302.0,1407.1 1305.1,1414.3 1312.9,1415.0 1307.0,1420.2 1308.8,1427.9 1302.0,1423.9 1295.2,1427.9 1297.0,1420.2 1291.1,1415.0 1298.9,1414.3" fill="#00ffff" stroke="#00ffff" stroke-width="1.2" stroke-linejoin="round"/>
<polygon points="1311.0,1433.4 1314.1,1440.6 1321.9,1441.3 1316.0,1446.5 1317.8,1454.2 1311.0,1450.2 1304.2,1454.2 1306.0,1446.5 1300.1,1441.3 1307.9,1440.6" fill="#00ffff" stroke="#00ffff" stroke-width="1.2" stroke-linejoin="round"/>
<polygon points="1322.0,1436.2 1325.1,1443.4 1332.9,1444.1 1327.0,1449.3 1328.8,1457.0 1322.0,1453.0 1315.2,1457.0 1317.0,1449.3 1311.1,1444.1 1318.9,1443.4" fill="#00ffff" stroke="#00ffff" stroke-width="1.2" stroke-linejoin="round"/>
<polygon points="1339.8,1438.9 1342.9,1446.1 1350.7,1446.8 1344.8,1452.0 1346.6,1459.7 1339.8,1455.7 1333.0,1459.7 1334.8,1452.0 1328.9,1446.8 1336.7,1446.1" fill="#00ffff" stroke="#00ffff" stroke-width="1.2" stroke-linejoin="round"/>
<polygon points="1357.7,1440.3 1360.8,1447.5 1368.6,1448.2 1362.7,1453.4 1364.5,1461.1 1357.7,1457.1 1350.9,1461.1 1352.7,1453.4 1346.8,1448.2 1354.6,1447.5" fill="#00ffff" stroke="#00ffff" stroke-width="1.2" stroke-linejoin="round"/>
<polygon points="1361.8,1448.6 1364.9,1455.8 1372.7,1456.5 1366.8,1461.7 1368.6,1469.4 1361.8,1465.4 1355.0,1469.4 1356.8,1461.7 1350.9,1456.5 1358.7,1455.8" fill="#00ffff" stroke="#00ffff" stroke-width="1.2" stroke-linejoin="round"/>
<polygon points="1312.4,1456.8 1315.5,1464.0 1323.3,1464.7 1317.4,1469.9 1319.2,1477.6 1312.4,1473.6 1305.6,1477.6 1307.4,1469.9 1301.5,1464.7 1309.3,1464.0" fill="#00ffff" stroke="#00ffff" stroke-width="1.2" stroke-linejoin="round"/>
<polygon points="1335.7,1455.4 1338.8,1462.6 1346.6,1463.3 1340.7,1468.5 1342.5,1476.2 1335.7,1472.2 1328.9,1476.2 1330.7,1468.5 1324.8,1463.3 1332.6,1462.6" fill="#00ffff" stroke="#00ffff" stroke-width="1.2" stroke-linejoin="round"/>
<polygon points="1352.2,1452.7 1355.3,1459.9 1363.1,1460.6 1357.2,1465.8 1359.0,1473.5 1352.2,1469.5 1345.4,1473.5 1347.2,1465.8 1341.3,1460.6 1349.1,1459.9" fill="#00ffff" stroke="#00ffff" stroke-width="1.2" stroke-linejoin="round"/>
<polygon points="1337.1,1469.2 1340.2,1476.4 1348.0,1477.1 1342.1,1482.3 1343.9,1490.0 1337.1,1486.0 1330.3,1490.0 1332.1,1482.3 1326.2,1477.1 1334.0,1476.4" fill="#00ffff" stroke="#00ffff" stroke-width="1.2" stroke-linejoin="round"/>
<polygon points="1308.2,1470.1 1311.3,1477.3 1319.1,1478.0 1313.2,1483.2 1315.0,1490.9 1308.2,1486.9 1301.4,1490.9 1303.2,1483.2 1297.3,1478.0 1305.1,1477.3" fill="#00ffff" stroke="#00ffff" stroke-width="1.2" stroke-linejoin="round"/>
<polygon points="1309.2,1476.3 1312.3,1483.5 1320.1,1484.2 1314.2,1489.4 1316.0,1497.1 1309.2,1493.1 1302.4,1497.1 1304.2,1489.4 1298.3,1484.2 1306.1,1483.5" fill="#00ffff" stroke="#00ffff" stroke-width="1.2" stroke-linejoin="round"/>
<polygon points="1290.0,1474.2 1293.1,1481.4 1300.9,1482.1 1295.0,1487.3 1296.8,1495.0 1290.0,1491.0 1283.2,1495.0 1285.0,1487.3 1279.1,1482.1 1286.9,1481.4" fill="#00ffff" stroke="#00ffff" stroke-width="1.2" stroke-linejoin="round"/>
<polygon points="1299.5,1475.4 1302.6,1482.6 1310.4,1483.3 1304.5,1488.5 1306.3,1496.2 1299.5,1492.2 1292.7,1496.2 1294.5,1488.5 1288.6,1483.3 1296.4,1482.6" fill="#00ffff" stroke="#00ffff" stroke-width="1.2" stroke-linejoin="round"/>
<polygon points="860.7,864.5 863.8,871.7 871.6,872.4 865.7,877.6 867.5,885.3 860.7,881.3 853.9,885.3 855.7,877.6 849.8,872.4 857.6,871.7" fill="#00ffff" stroke="#00ffff" stroke-width="1.2" stroke-linejoin="round"/>
<polygon points="1165.4,1286.6 1168.5,1293.8 1176.3,1294.5 1170.4,1299.7 1172.2,1307.4 1165.4,1303.4 1158.6,1307.4 1160.4,1299.7 1154.5,1294.5 1162.3,1293.8" fill="#00ffff" stroke="#00ffff" stroke-width="1.2" stroke-linejoin="round"/>
<polygon points="1253.0,1294.7 1256.1,1301.9 1263.9,1302.6 1258.0,1307.8 1259.8,1315.5 1253.0,1311.5 1246.2,1315.5 1248.0,1307.8 1242.1,1302.6 1249.9,1301.9" fill="#00ffff" stroke="#00ffff" stroke-width="1.2" stroke-linejoin="round"/>
<polygon points="1169.3,1320.8 1172.4,1328.0 1180.2,1328.7 1174.3,1333.9 1176.1,1341.6 1169.3,1337.6 1162.5,1341.6 1164.3,1333.9 1158.4,1328.7 1166.2,1328.0" fill="#00ffff" stroke="#00ffff" stroke-width="1.2" stroke-linejoin="round"/>
<polygon points="1193.0,1338.6 1196.1,1345.8 1203.9,1346.5 1198.0,1351.7 1199.8,1359.4 1193.0,1355.4 1186.2,1359.4 1188.0,1351.7 1182.1,1346.5 1189.9,1345.8" fill="#00ffff" stroke="#00ffff" stroke-width="1.2" stroke-linejoin="round"/>
<polygon points="1260.2,1352.4 1263.3,1359.6 1271.1,1360.3 1265.2,1365.5 1267.0,1373.2 1260.2,1369.2 1253.4,1373.2 1255.2,1365.5 1249.3,1360.3 1257.1,1359.6" fill="#00ffff" stroke="#00ffff" stroke-width="1.2" stroke-linejoin="round"/>
<polygon points="1271.2,1374.4 1274.3,1381.6 1282.1,1382.3 1276.2,1387.5 1278.0,1395.2 1271.2,1391.2 1264.4,1395.2 1266.2,1387.5 1260.3,1382.3 1268.1,1381.6" fill="#00ffff" stroke="#00ffff" stroke-width="1.2" stroke-linejoin="round"/>
<polygon points="1280.8,1375.8 1283.9,1383.0 1291.7,1383.7 1285.8,1388.9 1287.6,1396.6 1280.8,1392.6 1274.0,1396.6 1275.8,1388.9 1269.9,1383.7 1277.7,1383.0" fill="#00ffff" stroke="#00ffff" stroke-width="1.2" stroke-linejoin="round"/>
<polygon points="1295.9,1374.4 1299.0,1381.6 1306.8,1382.3 1300.9,1387.5 1302.7,1395.2 1295.9,1391.2 1289.1,1395.2 1290.9,1387.5 1285.0,1382.3 1292.8,1381.6" fill="#00ffff" stroke="#00ffff" stroke-width="1.2" stroke-linejoin="round"/>
<polygon points="1251.2,1388.8 1254.3,1396.0 1262.1,1396.7 1256.2,1401.9 1258.0,1409.6 1251.2,1405.6 1244.4,1409.6 1246.2,1401.9 1240.3,1396.7 1248.1,1396.0" fill="#00ffff" stroke="#00ffff" stroke-width="1.2" stroke-linejoin="round"/>
<polygon points="1286.3,1396.4 1289.4,1403.6 1297.2,1404.3 1291.3,1409.5 1293.1,1417.2 1286.3,1413.2 1279.5,1417.2 1281.3,1409.5 1275.4,1404.3 1283.2,1403.6" fill="#00ffff" stroke="#00ffff" stroke-width="1.2" stroke-linejoin="round"/>
<polygon points="1289.0,1438.1 1292.1,1445.3 1299.9,1446.0 1294.0,1451.2 1295.8,1458.9 1289.0,1454.9 1282.2,1458.9 1284.0,1451.2 1278.1,1446.0 1285.9,1445.3" fill="#00ffff" stroke="#00ffff" stroke-width="1.2" stroke-linejoin="round"/>
<polygon points="1265.0,1447.0 1268.1,1454.2 1275.9,1454.9 1270.0,1460.1 1271.8,1467.8 1265.0,1463.8 1258.2,1467.8 1260.0,1460.1 1254.1,1454.9 1261.9,1454.2" fill="#00ffff" stroke="#00ffff" stroke-width="1.2" stroke-linejoin="round"/>
<polygon points="1271.9,1468.6 1275.0,1475.8 1282.8,1476.5 1276.9,1481.7 1278.7,1489.4 1271.9,1485.4 1265.1,1489.4 1266.9,1481.7 1261.0,1476.5 1268.8,1475.8" fill="#00ffff" stroke="#00ffff" stroke-width="1.2" stroke-linejoin="round"/>
<polygon points="1331.0,1457.0 1334.1,1464.2 1341.9,1464.9 1336.0,1470.1 1337.8,1477.8 1331.0,1473.8 1324.2,1477.8 1326.0,1470.1 1320.1,1464.9 1327.9,1464.2" fill="#00ffff" stroke="#00ffff" stroke-width="1.2" stroke-linejoin="round"/>
<polygon points="1347.5,1453.6 1350.6,1460.8 1358.4,1461.5 1352.5,1466.7 1354.3,1474.4 1347.5,1470.4 1340.7,1474.4 1342.5,1466.7 1336.6,1461.5 1344.4,1460.8" fill="#00ffff" stroke="#00ffff" stroke-width="1.2" stroke-linejoin="round"/>
<polygon points="1362.3,1446.7 1365.4,1453.9 1373.2,1454.6 1367.3,1459.8 1369.1,1467.5 1362.3,1463.5 1355.5,1467.5 1357.3,1459.8 1351.4,1454.6 1359.2,1453.9" fill="#00ffff" stroke="#00ffff" stroke-width="1.2" stroke-linejoin="round"/>
</g>
<g fill="none" stroke="#000">
<path d="M290.8 51.6L1309.1 1563.0L2327.4 51.6" stroke-width="3.5" stroke-linejoin="miter"/>
<path d="M298.8 51.6L300.5 54.1M303.5 58.5L307.2 64.0M309.9 68.0L313.6 73.4M316.6 77.9L320.0 82.8M323.0 87.3L326.7 92.8M329.4 96.7L333.1 102.2M336.2 106.6L339.5 111.6M342.6 116.0L346.3 121.5M349.0 125.5L352.7 130.9M355.7 135.4L359.1 140.3M362.1 144.8L365.8 150.2M368.8 154.7L372.2 159.6M375.2 164.1L378.9 169.6M381.6 173.5L385.3 179.0M388.4 183.4L391.7 188.4M394.8 192.8L398.5 198.3M401.2 202.2L404.9 207.7M407.9 212.1L411.6 217.6M414.3 221.5L418.0 227.0M421.0 231.4L424.4 236.4M427.4 240.8L431.1 246.3M433.8 250.2L437.5 255.7M440.6 260.1L444.3 265.6M447.0 269.5L450.7 275.0M453.7 279.4L457.1 284.3M460.1 288.8L463.8 294.2M466.8 298.7L470.2 303.6M473.2 308.1L476.9 313.5M479.6 317.5L483.3 322.9M486.4 327.3L490.1 332.8M492.8 336.7L496.5 342.2M499.5 346.6L502.9 351.5M505.9 356.0L509.6 361.4M512.6 365.9L516.0 370.8M519.0 375.2L522.7 380.7M525.4 384.6L529.1 390.0M532.2 394.5L535.9 399.9M538.6 403.8L542.3 409.3M545.3 413.7L549.0 419.1M551.7 423.1L555.4 428.5M558.4 432.9L562.1 438.4M564.8 442.3L568.5 447.7M571.6 452.1L575.3 457.6M578.0 461.5L581.7 466.9M584.7 471.4L588.4 476.8M591.1 480.7L594.8 486.1M597.8 490.5L601.5 496.0M604.2 499.9L607.9 505.3M611.0 509.7L614.7 515.1M617.4 519.1L621.1 524.5M624.1 528.9L627.8 534.3M630.5 538.2L634.2 543.6M637.2 548.1L640.9 553.5M644.0 557.9L647.3 562.8M650.4 567.2L654.1 572.6M657.1 577.0L660.5 581.9M663.5 586.3L667.2 591.7M670.2 596.1L673.9 601.5M676.6 605.5L680.3 610.9M683.4 615.3L687.1 620.6M690.1 625.1L693.5 629.9M696.5 634.4L700.2 639.7M703.2 644.1L707.0 649.5M709.6 653.4L713.4 658.8M716.4 663.2L720.1 668.6M723.1 673.0L726.8 678.4M729.5 682.3L733.2 687.6M736.3 692.0L740.0 697.4M743.0 701.8L746.7 707.1M749.4 711.0L753.1 716.4M756.1 720.8L759.8 726.1M762.9 730.5L766.6 735.9M769.6 740.3L773.0 745.1M776.0 749.5L779.7 754.8M782.7 759.2L786.4 764.6M789.5 768.9L793.2 774.3M796.2 778.6L799.9 784.0M802.6 787.9L806.3 793.2M809.3 797.5L813.0 802.9M816.1 807.2L819.8 812.5M822.8 816.9L826.5 822.2M829.5 826.6L833.2 831.9M836.3 836.2L840.0 841.5M843.0 845.9L846.7 851.2M849.4 855.0L853.1 860.3M856.1 864.7L859.8 870.0M862.9 874.3L866.6 879.6M869.6 883.9L873.3 889.2M876.3 893.5L880.1 898.8M883.1 903.1L886.8 908.3M889.8 912.6L893.9 918.4M896.6 922.2L900.6 927.9M903.6 932.2L907.3 937.5M910.4 941.8L914.1 947.0M917.1 951.3L920.8 956.5M923.8 960.8L927.5 966.0M930.6 970.3L934.6 975.9M937.6 980.2L941.3 985.4M944.4 989.6L948.1 994.8M951.1 999.1L955.2 1004.7M958.2 1009.0L961.9 1014.1M964.9 1018.3L969.0 1024.0M972.0 1028.2L975.7 1033.3M978.7 1037.5L982.8 1043.1M985.8 1047.3L989.5 1052.4M992.9 1057.0L996.6 1062.1M999.6 1066.3L1003.6 1071.8M1006.7 1076.0L1010.7 1081.5M1013.8 1085.7L1017.8 1091.2M1020.8 1095.3L1024.9 1100.8M1027.9 1104.9L1031.9 1110.3M1035.0 1114.4L1039.0 1119.8M1042.0 1123.9L1046.1 1129.3M1049.4 1133.8L1053.5 1139.2M1056.5 1143.2L1060.6 1148.5M1063.9 1153.0L1068.0 1158.3M1071.0 1162.3L1075.4 1168.0M1078.4 1171.9L1082.5 1177.2M1085.8 1181.5L1090.2 1187.2M1093.2 1191.0L1097.6 1196.6M1101.0 1200.9L1105.0 1206.0M1108.4 1210.2L1112.8 1215.7M1116.1 1219.9L1120.5 1225.3M1123.9 1229.4L1128.6 1235.2M1132.0 1239.2L1136.3 1244.5M1140.0 1248.9L1144.4 1254.1M1148.1 1258.4L1152.8 1263.9M1156.5 1268.1L1161.3 1273.4M1165.0 1277.6L1170.0 1283.2M1173.7 1287.2L1178.8 1292.6M1182.8 1296.9L1187.9 1302.1M1192.2 1306.5L1197.6 1311.9M1201.7 1315.8L1207.1 1320.9M1211.4 1324.9L1216.8 1329.7M1220.9 1333.1L1226.3 1337.6M1230.6 1341.1L1236.0 1345.2M1240.1 1348.1L1245.5 1351.8M1249.8 1354.6L1255.2 1357.8M1259.3 1360.1L1264.6 1362.9M1269.0 1364.9L1274.4 1367.2M1278.5 1368.7L1283.8 1370.4M1288.2 1371.6L1293.6 1372.7M1297.6 1373.3L1303.0 1373.9M1307.4 1374.1L1312.8 1374.0M1316.8 1373.7L1322.2 1373.1M1326.6 1372.3L1332.0 1371.0M1336.0 1369.9L1341.4 1368.1M1345.8 1366.4L1351.2 1364.0M1355.2 1362.0L1360.6 1359.2M1365.0 1356.7L1370.4 1353.3M1374.4 1350.6L1379.8 1346.9M1384.2 1343.6L1389.6 1339.5M1393.6 1336.2L1399.0 1331.7M1403.4 1327.9L1408.8 1323.0M1412.8 1319.3L1418.2 1314.2M1422.6 1309.9L1428.0 1304.5M1432.0 1300.4L1437.1 1295.1M1441.1 1290.8L1446.2 1285.4M1449.9 1281.3L1454.9 1275.7M1458.6 1271.5L1463.3 1266.2M1467.0 1261.9L1471.8 1256.4M1475.1 1252.5L1479.8 1246.9M1483.2 1242.9L1487.9 1237.2M1491.3 1233.1L1495.7 1227.8M1499.0 1223.6L1503.4 1218.2M1506.8 1214.0L1511.2 1208.5M1514.5 1204.3L1518.6 1199.2M1521.9 1194.9L1526.3 1189.3M1529.7 1185.0L1533.7 1179.8M1537.1 1175.4L1541.1 1170.2M1544.5 1165.8L1548.5 1160.5M1551.6 1156.5L1555.6 1151.2M1559.0 1146.8L1563.0 1141.4M1566.4 1136.9L1570.1 1132.0M1573.5 1127.5L1577.5 1122.1M1580.5 1118.0L1584.6 1112.6M1587.6 1108.5L1591.7 1103.0M1594.7 1098.9L1598.7 1093.4M1601.8 1089.3L1605.8 1083.8M1608.8 1079.7L1612.9 1074.2M1615.9 1070.0L1619.9 1064.5M1623.0 1060.3L1626.7 1055.2M1630.0 1050.5L1633.7 1045.4M1636.8 1041.2L1640.8 1035.6M1643.9 1031.4L1647.6 1026.3M1650.6 1022.1L1654.6 1016.5M1657.7 1012.2L1661.4 1007.1M1664.4 1002.8L1668.4 997.2M1671.5 992.9L1675.2 987.8M1678.2 983.5L1681.9 978.3M1684.9 974.0L1688.6 968.8M1691.7 964.6L1695.7 958.9M1698.7 954.6L1702.4 949.4M1705.5 945.1L1709.2 939.9M1712.2 935.6L1715.9 930.3M1719.0 926.0L1722.7 920.8M1725.7 916.5L1729.4 911.2M1732.4 906.9L1736.1 901.6M1739.2 897.3L1742.9 892.0M1745.9 887.7L1749.6 882.4M1752.6 878.1L1756.3 872.8M1759.4 868.5L1763.1 863.2M1766.1 858.9L1769.8 853.6M1772.8 849.3L1776.5 843.9M1779.6 839.6L1783.3 834.3M1786.3 830.0L1790.0 824.6M1793.0 820.3L1796.7 815.0M1799.8 810.6L1803.5 805.3M1806.5 800.9L1810.2 795.6M1812.9 791.7L1816.6 786.4M1819.6 782.0L1823.3 776.7M1826.4 772.3L1830.1 767.0M1833.1 762.6L1836.8 757.3M1839.9 752.9L1843.2 748.0M1846.2 743.7L1850.0 738.3M1853.0 733.9L1856.7 728.6M1859.7 724.2L1863.4 718.8M1866.1 714.9L1869.8 709.6M1872.9 705.2L1876.6 699.8M1879.6 695.4L1883.3 690.1M1886.0 686.2L1889.7 680.8M1892.7 676.4L1896.4 671.0M1899.5 666.6L1903.2 661.3M1905.9 657.3L1909.6 652.0M1912.6 647.6L1916.3 642.2M1919.3 637.8L1923.0 632.4M1925.7 628.5L1929.4 623.1M1932.5 618.7L1936.2 613.3M1938.9 609.4L1942.6 604.0M1945.6 599.6L1949.3 594.2M1952.3 589.8L1955.7 584.9M1958.7 580.5L1962.4 575.1M1965.5 570.6L1969.2 565.2M1971.9 561.3L1975.6 555.9M1978.6 551.5L1982.3 546.1M1985.0 542.2L1988.7 536.8M1991.7 532.3L1995.4 526.9M1998.5 522.5L2001.8 517.6M2004.9 513.2L2008.6 507.8M2011.6 503.3L2015.0 498.4M2018.0 494.0L2021.7 488.6M2024.7 484.2L2028.1 479.2M2031.1 474.8L2034.8 469.4M2037.9 465.0L2041.2 460.0M2044.3 455.6L2048.0 450.2M2051.0 445.7L2054.4 440.8M2057.4 436.4L2061.1 431.0M2064.1 426.5L2067.5 421.6M2070.5 417.2L2074.2 411.7M2077.3 407.3L2080.6 402.4M2083.7 397.9L2087.4 392.5M2090.1 388.6L2093.8 383.1M2096.8 378.7L2100.5 373.3M2103.2 369.3L2106.9 363.9M2109.9 359.4L2113.6 354.0M2116.3 350.1L2120.0 344.6M2123.1 340.2L2126.4 335.2M2129.5 330.8L2133.2 325.4M2136.2 320.9L2139.6 316.0M2142.6 311.5L2146.3 306.1M2149.0 302.1L2152.7 296.7M2155.7 292.3L2159.4 286.8M2162.1 282.9L2165.8 277.4M2168.9 273.0L2172.2 268.0M2175.3 263.6L2179.0 258.1M2182.0 253.7L2185.4 248.7M2188.4 244.3L2192.1 238.9M2194.8 234.9L2198.5 229.4M2201.5 225.0L2204.9 220.0M2207.9 215.6L2211.6 210.1M2214.7 205.7L2218.0 200.7M2221.1 196.3L2224.8 190.8M2227.5 186.9L2231.2 181.4M2234.2 177.0L2237.6 172.0M2240.6 167.6L2244.3 162.1M2247.0 158.2L2250.7 152.7M2253.7 148.3L2257.4 142.8M2260.1 138.8L2263.8 133.4M2266.9 128.9L2270.2 124.0M2273.3 119.5L2277.0 114.1M2279.7 110.1L2283.4 104.6M2286.4 100.2L2289.8 95.2M2292.8 90.8L2296.5 85.3M2299.2 81.4L2302.9 75.9M2305.9 71.4L2309.3 66.5M2312.3 62.0L2316.0 56.6M2319.1 52.1L2319.4 51.6M310.9 54.5L314.5 59.9M317.5 64.2L321.2 69.6M323.9 73.5L327.5 78.8M330.5 83.2L334.2 88.5M337.2 92.9L340.9 98.2M343.9 102.6L347.5 107.9M350.2 111.8L353.9 117.2M356.9 121.5L360.5 126.9M363.5 131.2L367.2 136.6M370.2 140.9L373.9 146.3M376.9 150.6L380.5 156.0M383.2 159.8L386.9 165.2M389.9 169.5L393.5 174.9M396.5 179.2L400.2 184.6M403.2 188.9L406.9 194.2M409.9 198.6L413.6 203.9M416.6 208.3L420.2 213.6M422.9 217.5L426.6 222.8M429.6 227.1L433.2 232.5M436.2 236.8L439.9 242.1M442.9 246.5L446.6 251.8M449.6 256.1L453.2 261.5M456.2 265.8L459.9 271.1M462.9 275.5L466.6 280.8M469.2 284.6L472.9 289.9M475.9 294.3L479.6 299.6M482.6 303.9L486.2 309.2M489.2 313.6L492.9 318.9M495.9 323.2L499.6 328.5M502.6 332.8L506.2 338.1M509.2 342.5L512.9 347.8M515.9 352.1L519.6 357.4M522.6 361.7L526.2 367.0M529.2 371.3L532.9 376.6M535.9 380.9L539.6 386.2M542.6 390.5L546.3 395.8M549.3 400.1L552.9 405.4M555.9 409.7L559.6 415.0M562.6 419.3L566.3 424.6M569.3 428.9L572.9 434.2M575.9 438.5L579.6 443.8M582.6 448.1L586.3 453.3M589.3 457.6L592.9 462.9M595.9 467.2L599.6 472.5M602.6 476.8L606.3 482.0M609.3 486.3L612.9 491.6M615.9 495.9L619.9 501.6M622.9 505.9L626.6 511.1M629.6 515.4L633.3 520.6M636.3 524.9L639.9 530.2M642.9 534.4L646.6 539.7M649.6 544.0L653.3 549.2M656.3 553.5L660.3 559.2M663.3 563.4L666.9 568.7M669.9 572.9L673.6 578.1M676.6 582.4L680.3 587.6M683.3 591.9L687.3 597.5M690.3 601.8L694.0 607.0M697.0 611.3L700.6 616.5M703.6 620.7L707.6 626.4M710.6 630.6L714.3 635.8M717.3 640.0L721.0 645.2M724.0 649.4L728.0 655.1M731.0 659.3L734.6 664.5M737.6 668.7L741.6 674.3M744.6 678.6L748.3 683.7M751.3 687.9L755.3 693.5M758.3 697.8L762.0 702.9M765.0 707.1L769.0 712.7M772.0 716.9L775.6 722.0M778.6 726.2L782.6 731.8M785.6 736.0L789.6 741.6M792.6 745.7L796.3 750.9M799.3 755.0L803.3 760.6M806.3 764.7L810.3 770.3M813.3 774.5L817.3 780.0M820.3 784.1L824.0 789.2M827.3 793.8L831.0 798.9M834.0 803.0L838.0 808.5M841.0 812.6L845.0 818.1M848.0 822.3L852.0 827.7M855.0 831.8L859.0 837.3M862.0 841.4L866.0 846.9M869.3 851.4L873.0 856.4M876.3 860.9L880.3 866.4M883.3 870.4L887.3 875.8M890.3 879.9L894.3 885.3M897.7 889.8L901.7 895.2M904.7 899.2L908.7 904.6M912.0 909.0L916.0 914.4M919.0 918.4L923.0 923.7M926.3 928.1L930.3 933.4M933.3 937.4L937.7 943.1M940.7 947.1L944.7 952.4M948.0 956.8L952.0 962.0M955.3 966.4L959.3 971.6M962.7 975.9L967.0 981.5M970.0 985.4L974.4 991.0M977.7 995.3L981.7 1000.4M985.0 1004.7L989.4 1010.3M992.7 1014.5L997.0 1020.0M1000.4 1024.2L1004.4 1029.2M1007.7 1033.4L1012.0 1038.9M1015.4 1043.0L1019.7 1048.4M1023.4 1052.9L1027.7 1058.3M1031.0 1062.4L1035.4 1067.6M1039.0 1072.1L1043.4 1077.3M1047.0 1081.8L1051.4 1086.9M1055.0 1091.3L1059.4 1096.4M1063.0 1100.7L1067.7 1106.2M1071.4 1110.4L1076.0 1115.8M1079.7 1120.0L1084.4 1125.3M1088.0 1129.5L1093.0 1135.1M1096.7 1139.1L1101.7 1144.6M1105.7 1149.0L1110.7 1154.3M1114.4 1158.2L1119.7 1163.9M1123.7 1168.0L1129.1 1173.5M1133.1 1177.5L1138.4 1182.9M1142.7 1187.1L1148.1 1192.3M1152.4 1196.4L1157.7 1201.4M1161.7 1205.0L1167.4 1210.1M1171.4 1213.6L1177.1 1218.5M1181.1 1221.8L1186.4 1226.1M1190.7 1229.6L1196.1 1233.7M1200.4 1236.9L1205.7 1240.8M1209.7 1243.5L1215.4 1247.3M1219.4 1249.9L1225.1 1253.4M1229.1 1255.7L1234.4 1258.7M1238.7 1261.0L1244.1 1263.6M1248.4 1265.6L1253.8 1267.9M1257.8 1269.5L1263.4 1271.6M1267.4 1272.9L1273.1 1274.6M1277.1 1275.7L1282.4 1276.9M1286.8 1277.7L1292.1 1278.5M1296.4 1279.0L1301.8 1279.4M1305.8 1279.6L1311.4 1279.6M1315.4 1279.5L1321.1 1279.1M1325.1 1278.6L1330.4 1277.8M1334.8 1277.1L1340.1 1275.9M1344.4 1274.8L1349.8 1273.3M1353.8 1272.0L1359.4 1269.9M1363.4 1268.4L1368.8 1266.1M1373.1 1264.1L1378.4 1261.5M1382.8 1259.2L1388.1 1256.3M1392.1 1254.0L1397.8 1250.5M1401.8 1248.0L1407.5 1244.2M1411.5 1241.5L1416.8 1237.6M1421.1 1234.4L1426.5 1230.4M1430.8 1226.9L1436.1 1222.6M1440.1 1219.3L1445.8 1214.5M1449.8 1211.0L1455.5 1205.9M1459.5 1202.3L1464.8 1197.3M1469.1 1193.2L1474.5 1188.1M1478.8 1183.8L1484.1 1178.5M1488.1 1174.5L1493.5 1169.0M1497.5 1164.9L1502.8 1159.3M1506.8 1155.0L1511.8 1149.7M1515.5 1145.7L1520.5 1140.2M1524.2 1136.2L1529.2 1130.6M1532.8 1126.5L1537.8 1120.8M1541.5 1116.6L1546.2 1111.2M1549.5 1107.4L1554.2 1101.9M1557.8 1097.6L1562.5 1092.1M1565.8 1088.1L1570.5 1082.5M1573.8 1078.5L1578.5 1072.9M1581.8 1068.9L1586.2 1063.6M1589.8 1059.1L1594.2 1053.8M1597.5 1049.6L1601.8 1044.3M1605.2 1040.1L1609.5 1034.7M1612.8 1030.5L1617.2 1025.0M1620.5 1020.8L1624.8 1015.3M1628.2 1011.1L1632.2 1006.0M1635.5 1001.7L1639.8 996.2M1643.2 991.9L1647.2 986.7M1650.5 982.4L1654.8 976.8M1657.9 972.9L1662.2 967.2M1665.2 963.3L1669.5 957.6M1672.5 953.7L1676.9 948.0M1679.9 944.0L1683.9 938.7M1687.2 934.3L1691.2 929.0M1694.5 924.6L1698.5 919.3M1701.5 915.3L1705.5 909.9M1708.9 905.5L1712.9 900.1M1715.9 896.1L1719.9 890.7M1723.2 886.2L1727.2 880.8M1730.2 876.7L1734.2 871.3M1737.2 867.3L1741.2 861.8M1744.2 857.8L1748.2 852.3M1751.5 847.8L1755.2 842.8M1758.5 838.2L1762.2 833.2M1765.5 828.6L1769.2 823.6M1772.5 819.0L1776.2 814.0M1779.5 809.4L1783.2 804.4M1786.5 799.8L1790.2 794.7M1793.5 790.1L1797.2 785.1M1800.2 780.9L1804.2 775.4M1807.2 771.2L1811.2 765.7M1814.2 761.5L1817.9 756.4M1821.2 751.8L1824.9 746.7M1827.9 742.5L1831.9 736.9M1834.9 732.7L1838.6 727.6M1841.9 723.0L1845.6 717.8M1848.6 713.6L1852.6 708.0M1855.6 703.8L1859.2 698.7M1862.2 694.5L1866.2 688.9M1869.2 684.7L1872.9 679.5M1875.9 675.3L1879.9 669.7M1882.9 665.4L1886.6 660.3M1889.6 656.0L1893.6 650.4M1896.6 646.2L1900.2 641.0M1903.2 636.7L1906.9 631.6M1909.9 627.3L1913.9 621.6M1916.9 617.4L1920.6 612.2M1923.6 608.0L1927.2 602.8M1930.2 598.5L1934.3 592.8M1937.3 588.6L1940.9 583.3M1943.9 579.1L1947.6 573.9M1950.6 569.6L1954.3 564.4M1957.3 560.1L1961.3 554.4M1964.3 550.1L1967.9 544.9M1970.9 540.6L1974.6 535.4M1977.6 531.1L1981.3 525.9M1984.3 521.6L1987.9 516.4M1990.9 512.1L1994.6 506.8M1997.6 502.5L2001.6 496.8M2004.6 492.5L2008.3 487.3M2011.3 483.0L2014.9 477.7M2017.9 473.4L2021.6 468.2M2024.6 463.9L2028.3 458.6M2031.3 454.3L2034.9 449.0M2037.9 444.7L2041.6 439.5M2044.6 435.1L2048.3 429.9M2051.3 425.6L2054.9 420.3M2057.9 416.0L2061.6 410.7M2064.6 406.4L2068.3 401.1M2071.3 396.8L2075.0 391.5M2078.0 387.2L2081.6 381.9M2084.6 377.6L2088.3 372.3M2091.3 368.0L2095.0 362.7M2098.0 358.3L2101.6 353.1M2104.6 348.7L2108.3 343.4M2111.3 339.1L2115.0 333.8M2118.0 329.5L2121.6 324.2M2124.6 319.8L2128.3 314.5M2131.3 310.2L2135.0 304.9M2138.0 300.5L2141.6 295.2M2144.6 290.9L2148.3 285.6M2151.0 281.7L2154.6 276.4M2157.6 272.1L2161.3 266.8M2164.3 262.4L2168.0 257.1M2171.0 252.8L2174.6 247.4M2177.6 243.1L2181.3 237.8M2184.3 233.4L2188.0 228.1M2191.0 223.8L2194.6 218.4M2197.3 214.6L2201.0 209.2M2204.0 204.9L2207.6 199.6M2210.6 195.2L2214.3 189.9M2217.3 185.5L2221.0 180.2M2224.0 175.8L2227.7 170.5M2230.7 166.1L2234.3 160.8M2237.0 156.9L2240.7 151.6M2243.7 147.2L2247.3 141.9M2250.3 137.5L2254.0 132.2M2257.0 127.8L2260.7 122.5M2263.7 118.1L2267.3 112.8M2270.0 108.9L2273.7 103.6M2276.7 99.2L2280.3 93.9M2283.3 89.5L2287.0 84.2M2290.0 79.8L2293.7 74.4M2296.3 70.6L2300.0 65.2M2303.0 60.8L2306.7 55.5M325.8 55.4L329.4 60.6M332.3 64.8L336.3 70.5M339.2 74.7L342.9 79.9M345.8 84.2L349.4 89.4M352.7 94.1L356.3 99.3M359.3 103.5L362.9 108.7M365.9 112.9L369.8 118.6M372.8 122.8L376.4 128.0M379.3 132.2L383.0 137.4M385.9 141.6L389.9 147.3M392.8 151.5L396.4 156.7M399.4 160.9L403.3 166.5M406.3 170.8L409.9 175.9M412.9 180.1L416.8 185.8M419.8 190.0L423.4 195.1M426.3 199.4L430.3 205.0M433.2 209.2L436.8 214.4M439.8 218.6L443.8 224.2M446.7 228.4L450.3 233.5M453.3 237.8L457.2 243.4M460.2 247.6L463.8 252.7M466.8 256.9L470.7 262.5M473.7 266.7L477.3 271.8M480.2 276.0L484.2 281.6M487.1 285.8L490.7 291.0M494.0 295.6L497.7 300.7M500.6 304.9L504.6 310.5M507.5 314.7L511.1 319.8M514.4 324.5L518.0 329.6M521.0 333.7L524.9 339.3M527.9 343.5L531.5 348.6M534.8 353.2L538.4 358.3M541.4 362.5L545.3 368.0M548.3 372.2L552.2 377.8M555.2 381.9L558.8 387.0M562.1 391.6L565.7 396.7M568.6 400.8L572.6 406.4M575.5 410.5L579.5 416.1M582.4 420.2L586.4 425.7M589.3 429.9L593.3 435.4M596.2 439.5L599.9 444.6M603.1 449.2L606.8 454.2M610.1 458.8L613.7 463.8M617.0 468.4L620.6 473.4M623.9 478.0L627.5 483.0M630.8 487.6L634.4 492.6M637.7 497.2L641.3 502.2M644.6 506.8L648.2 511.8M651.5 516.3L655.4 521.8M658.4 525.9L662.3 531.3M665.3 535.4L669.2 540.8M672.2 544.9L676.1 550.4M679.1 554.4L683.0 559.9M686.3 564.4L690.2 569.8M693.2 573.8L697.1 579.3M700.1 583.3L704.0 588.7M707.3 593.2L711.3 598.6M714.2 602.6L718.2 608.0M721.1 612.0L725.1 617.4M728.4 621.9L732.3 627.2M735.3 631.2L739.2 636.6M742.5 641.0L746.4 646.4M749.7 650.8L753.7 656.1M756.6 660.1L760.6 665.4M763.9 669.9L767.8 675.2M771.1 679.6L775.0 684.9M778.0 688.8L782.3 694.5M785.2 698.5L789.5 704.2M792.5 708.1L796.4 713.4M799.7 717.7L803.6 723.0M806.9 727.3L811.2 733.0M814.1 736.9L818.4 742.5M821.4 746.4L825.6 752.0M828.9 756.4L832.9 761.5M836.2 765.8L840.4 771.4M843.4 775.3L847.7 780.8M851.0 785.1L854.9 790.2M858.2 794.4L862.5 800.0M865.7 804.2L870.0 809.7M873.3 813.9L877.6 819.4M880.9 823.6L884.8 828.6M888.4 833.2L892.4 838.2M896.0 842.8L900.3 848.2M903.5 852.3L907.8 857.7M911.1 861.8L915.4 867.1M919.0 871.6L923.3 876.9M926.5 881.0L930.8 886.2M934.4 890.7L938.7 895.9M942.3 900.3L946.6 905.5M950.2 909.9L954.5 915.1M958.1 919.4L962.7 924.9M966.0 928.9L970.6 934.3M974.2 938.6L978.8 944.0M982.4 948.3L987.0 953.7M990.6 957.9L995.2 963.2M998.8 967.3L1003.8 973.0M1007.4 977.1L1012.0 982.3M1015.9 986.7L1020.5 991.9M1024.5 996.2L1029.4 1001.7M1033.0 1005.6L1038.3 1011.3M1041.9 1015.2L1047.2 1020.9M1051.1 1025.0L1056.4 1030.6M1060.3 1034.7L1065.6 1040.1M1069.5 1044.1L1075.1 1049.8M1079.0 1053.7L1084.6 1059.2M1088.6 1063.1L1094.2 1068.5M1098.4 1072.6L1103.7 1077.5M1108.0 1081.4L1113.2 1086.2M1117.5 1090.1L1123.1 1095.0M1127.0 1098.5L1132.6 1103.2M1136.6 1106.5L1142.1 1111.1M1146.4 1114.6L1151.7 1118.7M1155.9 1122.0L1161.2 1126.0M1165.5 1129.2L1171.1 1133.2M1175.0 1135.9L1180.6 1139.7M1184.5 1142.3L1190.1 1145.9M1194.4 1148.6L1199.7 1151.7M1203.9 1154.2L1209.2 1157.1M1213.5 1159.4L1219.0 1162.2M1223.0 1164.1L1228.6 1166.7M1232.5 1168.4L1238.1 1170.7M1242.4 1172.4L1247.6 1174.3M1251.9 1175.7L1257.5 1177.5M1261.4 1178.6L1267.0 1180.0M1271.0 1180.9L1276.6 1182.1M1280.8 1182.8L1286.1 1183.6M1290.4 1184.1L1295.6 1184.6M1299.9 1184.9L1305.5 1185.1M1309.4 1185.1L1315.0 1185.0M1319.0 1184.9L1324.5 1184.5M1328.8 1184.0L1334.1 1183.3M1338.4 1182.7L1343.6 1181.7M1347.9 1180.8L1353.5 1179.5M1357.4 1178.4L1363.0 1176.8M1366.9 1175.5L1372.5 1173.6M1376.8 1172.0L1382.1 1169.9M1386.3 1168.1L1391.6 1165.8M1395.9 1163.8L1401.5 1161.1M1405.4 1159.0L1411.0 1156.0M1414.9 1153.8L1420.5 1150.5M1424.8 1148.0L1430.0 1144.7M1434.3 1141.9L1439.9 1138.2M1443.8 1135.5L1449.4 1131.5M1453.4 1128.7L1459.0 1124.5M1463.2 1121.3L1468.5 1117.2M1472.8 1113.8L1478.0 1109.5M1482.3 1106.0L1487.9 1101.3M1491.8 1097.9L1497.4 1093.0M1501.4 1089.5L1507.0 1084.5M1511.2 1080.5L1516.5 1075.6M1520.8 1071.6L1526.0 1066.6M1530.3 1062.5L1535.9 1057.0M1539.8 1053.1L1545.4 1047.5M1549.3 1043.5L1554.6 1038.1M1558.9 1033.7L1563.8 1028.5M1567.8 1024.3L1573.0 1018.8M1577.0 1014.5L1581.9 1009.2M1585.8 1004.9L1590.8 999.5M1594.4 995.5L1599.3 990.0M1603.2 985.6L1607.8 980.4M1611.5 976.3L1616.4 970.7M1620.0 966.6L1624.6 961.3M1628.2 957.1L1632.8 951.7M1636.4 947.5L1641.0 942.1M1644.7 937.8L1649.3 932.4M1652.9 928.1L1657.5 922.6M1660.8 918.6L1665.4 913.1M1668.6 909.1L1673.2 903.5M1676.5 899.5L1681.1 893.9M1684.4 889.9L1689.0 884.2M1692.3 880.2L1696.6 874.9M1700.2 870.4L1704.5 865.0M1707.8 860.9L1712.0 855.6M1715.3 851.5L1719.6 846.1M1722.9 841.9L1727.1 836.5M1730.4 832.4L1734.7 826.9M1738.0 822.7L1742.3 817.3M1745.6 813.1L1749.8 807.6M1753.1 803.3L1757.4 797.8M1760.7 793.6L1764.6 788.5M1767.9 784.2L1772.2 778.7M1775.5 774.4L1779.4 769.3M1782.7 765.0L1787.0 759.4M1789.9 755.5L1794.2 749.9M1797.5 745.6L1801.4 740.4M1804.7 736.0L1808.7 730.8M1811.9 726.5L1815.9 721.2M1819.2 716.9L1823.1 711.6M1826.4 707.3L1830.3 702.0M1833.6 697.6L1837.6 692.3M1840.9 688.0L1844.8 682.7M1847.8 678.7L1851.7 673.4M1855.0 669.0L1858.9 663.7M1862.2 659.2L1866.2 653.9M1869.1 649.9L1873.1 644.6M1876.4 640.2L1880.3 634.8M1883.6 630.4L1887.5 625.0M1890.5 621.0L1894.4 615.6M1897.7 611.1L1901.3 606.2M1904.6 601.7L1908.6 596.3M1911.5 592.3L1915.5 586.9M1918.8 582.4L1922.7 577.0M1925.7 572.9L1929.6 567.5M1932.6 563.5L1936.5 558.0M1939.8 553.5L1943.4 548.5M1946.7 544.0L1950.6 538.6M1953.6 534.5L1957.5 529.1M1960.5 525.0L1964.4 519.5M1967.4 515.4L1971.3 510.0M1974.3 505.9L1978.2 500.4M1981.2 496.3L1985.1 490.8M1988.1 486.7L1992.0 481.2M1995.0 477.1L1998.9 471.6M2001.9 467.5L2005.8 462.0M2008.8 457.9L2012.8 452.4M2015.7 448.2L2019.7 442.7M2022.6 438.6L2026.6 433.1M2029.5 428.9L2033.5 423.4M2036.4 419.3L2040.0 414.2M2043.3 409.6L2046.9 404.5M2050.2 399.9L2053.8 394.8M2056.8 390.7L2060.7 385.1M2063.7 381.0L2067.6 375.4M2070.6 371.3L2074.2 366.2M2077.5 361.6L2081.1 356.5M2084.1 352.3L2088.0 346.7M2091.0 342.6L2094.9 337.0M2097.9 332.8L2101.5 327.7M2104.4 323.5L2108.4 317.9M2111.3 313.8L2115.3 308.2M2118.2 304.0L2121.9 298.9M2124.8 294.7L2128.8 289.1M2131.7 284.9L2135.3 279.8M2138.6 275.1L2142.2 270.0M2145.2 265.8L2149.1 260.2M2152.1 256.0L2155.7 250.8M2158.7 246.6L2162.6 241.0M2165.6 236.8L2169.2 231.7M2172.1 227.5L2176.1 221.9M2179.0 217.6L2182.7 212.5M2185.6 208.3L2189.6 202.6M2192.5 198.4L2196.1 193.3M2199.1 189.1L2203.0 183.4M2206.0 179.2L2209.6 174.0M2212.6 169.8L2216.5 164.2M2219.5 160.0L2223.1 154.8M2226.0 150.6L2229.7 145.4M2232.6 141.2L2236.6 135.5M2239.5 131.3L2243.1 126.1M2246.1 121.9L2250.0 116.2M2253.0 112.0L2256.6 106.8M2259.6 102.6L2263.2 97.4M2266.1 93.1L2270.1 87.5M2273.0 83.2L2276.7 78.0M2279.6 73.8L2283.2 68.6M2286.2 64.3L2290.1 58.7M2293.1 54.4L2295.1 51.6" stroke-width="3.3"/>
</g>
<g fill="#000" shape-rendering="crispEdges">
<rect x="260" y="48" width="2068" height="7"/>
<rect x="260" y="1560" width="2071" height="6"/>
<rect x="288" y="48" width="6" height="1546"/>
<rect x="2324" y="50" width="7" height="1544"/>
<rect x="260" y="1371" width="31" height="6.5"/>
<rect x="260" y="1182" width="31" height="6.5"/>
<rect x="260" y="993" width="31" height="6.5"/>
<rect x="260" y="804" width="31" height="6.5"/>
<rect x="260" y="615" width="31" height="6.5"/>
<rect x="260" y="426" width="31" height="6.5"/>
<rect x="260" y="238" width="31" height="6.5"/>
<rect x="415" y="1563" width="6" height="31"/>
<rect x="542" y="1563" width="6" height="31"/>
<rect x="670" y="1563" width="6" height="31"/>
<rect x="797" y="1563" width="6" height="31"/>
<rect x="924" y="1563" width="6" height="31"/>
<rect x="1052" y="1563" width="6" height="31"/>
<rect x="1179" y="1563" width="6" height="31"/>
<rect x="1306" y="1563" width="6" height="31"/>
<rect x="1433" y="1563" width="6" height="31"/>
<rect x="1561" y="1563" width="6" height="31"/>
<rect x="1688" y="1563" width="6" height="31"/>
<rect x="1815" y="1563" width="6" height="31"/>
<rect x="1943" y="1563" width="6" height="31"/>
<rect x="2070" y="1563" width="6" height="31"/>
<rect x="2197" y="1563" width="6" height="31"/>
</g>
<g font-size="76.5" text-anchor="end">
<text x="240" y="1583.4">0</text>
<text x="240" y="1394.5">10</text>
<text x="240" y="1205.6">20</text>
<text x="240" y="1016.6">30</text>
<text x="240" y="827.7">40</text>
<text x="240" y="638.8">50</text>
<text x="240" y="449.9">60</text>
<text x="240" y="260.9">70</text>
<text x="240" y="72.0">80</text>
</g>
<g font-size="76" text-anchor="middle" letter-spacing="-0.6">
<text x="289.8" y="1672.6">-80</text>
<text x="417.1" y="1672.6">-70</text>
<text x="544.4" y="1672.6">-60</text>
<text x="671.7" y="1672.6">-50</text>
<text x="799.0" y="1672.6">-40</text>
<text x="926.2" y="1672.6">-30</text>
<text x="1053.5" y="1672.6">-20</text>
<text x="1180.8" y="1672.6">-10</text>
<text x="1309.1" y="1672.6">0</text>
<text x="1436.4" y="1672.6">10</text>
<text x="1563.7" y="1672.6">20</text>
<text x="1691.0" y="1672.6">30</text>
<text x="1818.3" y="1672.6">40</text>
<text x="1945.5" y="1672.6">50</text>
<text x="2072.8" y="1672.6">60</text>
<text x="2200.1" y="1672.6">70</text>
<text x="2327.4" y="1672.6">80</text>
</g>
<text x="1077.5" y="1821" font-size="83" letter-spacing="-1.2" xml:space="preserve">MBE (W m<tspan font-size="51" dy="-44">-2</tspan><tspan dy="44" dx="2.5">)</tspan></text>
<text transform="translate(98.5 1128) rotate(-90)" font-size="83" letter-spacing="-1.2" xml:space="preserve">RMSE (W m<tspan font-size="51" dy="-44">-2</tspan><tspan dy="44" dx="2.5">)</tspan></text>
<g font-size="77.5" letter-spacing="-1.35">
<circle cx="415.3" cy="1078.6" r="13.5" fill="#00ff00"/><text x="530" y="1103.9">North</text>
<rect x="403.8" y="1157.1" width="23" height="23" fill="none" stroke="#0000ff" stroke-width="1.6"/><text x="530" y="1194.8">Northeast</text>
<path d="M398.8 1249.0h33L415.3 1277.5z" fill="#ff0000"/><text x="530" y="1285.5">Midwest</text>
<path d="M415.3 1332.8L433.3 1350.8L415.3 1368.8L397.3 1350.8z" fill="#ff00ff"/><text x="530" y="1375.8">Southeast</text>
<polygon points="415.3,1425.0 419.3,1436.5 431.5,1436.7 421.8,1444.1 425.3,1455.8 415.3,1448.8 405.3,1455.8 408.8,1444.1 399.1,1436.7 411.3,1436.5" fill="#00ffff"/><text x="530" y="1466.7">South</text>
</g>
</svg>
</body>
</html>
